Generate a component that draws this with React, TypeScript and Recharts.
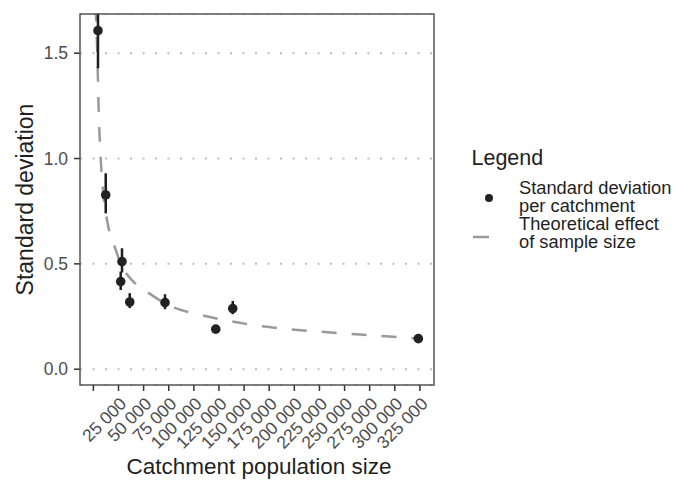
import { ComposedChart, Line, Scatter, ErrorBar, XAxis, YAxis, CartesianGrid } from 'recharts';

document.body.style.margin = '0';

const xTicks = [0, 25000, 50000, 75000, 100000, 125000, 150000, 175000, 200000, 225000, 250000, 275000, 300000, 325000];
const xTickLabels = ['', '25 000', '50 000', '75 000', '100 000', '125 000', '150 000', '175 000', '200 000', '225 000', '250 000', '275 000', '300 000', '325 000'];
const yTicks = [0, 0.5, 1, 1.5];
const yTickLabels = ['0.0', '0.5', '1.0', '1.5'];

// one point per catchment, with its interval
const catchmentPop = [4600, 12300, 28500, 27200, 36200, 71300, 121800, 138700, 323400];
const sdValue = [1.607, 0.827, 0.511, 0.416, 0.319, 0.316, 0.19, 0.288, 0.145];
const sdLow = [1.429, 0.74, 0.459, 0.376, 0.29, 0.285, 0.18, 0.261, 0.138];
const sdHigh = [1.785, 0.93, 0.574, 0.463, 0.361, 0.356, 0.2, 0.324, 0.152];

// theoretical curve
const theoryPop = [2300, 3900, 5600, 7300, 14900, 19300, 26500, 41400, 53100, 76300, 102800, 132700, 162600, 194000, 225600, 255400, 285300, 316800, 323400];
const theorySd = [1.72, 1.5, 1.18, 1.0, 0.676, 0.61, 0.51, 0.408, 0.368, 0.3, 0.262, 0.231, 0.207, 0.19, 0.178, 0.168, 0.158, 0.148, 0.146];

const pointData = catchmentPop.map((x, i) => ({
  x,
  y: sdValue[i],
  err: [sdValue[i] - sdLow[i], sdHigh[i] - sdValue[i]],
}));
const lineData = theoryPop.map((x, i) => ({ x, y: theorySd[i] }));

const FONT = '"Liberation Sans", Arial, sans-serif';
const TEXT = '#1f1f1f';
const AXIS_TEXT = '#4d4d4d';

const XTick = ({ x, y, payload }: any) => {
  const label = xTickLabels[xTicks.indexOf(payload.value)] ?? '';
  return (
    <g transform={`translate(${x},${y})`}>
      <text
        x={0}
        y={0}
        dy="0.72em"
        textAnchor="end"
        transform="rotate(-45)"
        fill={AXIS_TEXT}
        fontSize={17.5}
        fontFamily={FONT}
      >
        {label}
      </text>
    </g>
  );
};

const Dot = ({ cx, cy }: any) => <circle cx={cx} cy={cy} r={4.8} fill="#222" />;

export default function App() {
  return (
    <div style={{ position: 'relative', width: 678, height: 485, background: '#fff' }}>
      <ComposedChart width={678} height={485} margin={{ top: 14, right: 244, bottom: 0, left: 0 }}>
        <CartesianGrid
          vertical={false}
          stroke="#bdbdbd"
          strokeWidth={2}
          strokeDasharray="2 10.5"
        />
        <XAxis
          type="number"
          dataKey="x"
          domain={[-13300, 339000]}
          ticks={xTicks}
          interval={0}
          allowDataOverflow
          axisLine={false}
          tickSize={6}
          tickMargin={5}
          tickLine={{ stroke: '#333', strokeWidth: 1.5 }}
          tick={<XTick />}
          height={100}
        />
        <YAxis
          type="number"
          domain={[-0.075, 1.686]}
          ticks={yTicks}
          allowDataOverflow
          axisLine={false}
          tickSize={6}
          tickMargin={6}
          tickLine={{ stroke: '#333', strokeWidth: 1.5 }}
          tickFormatter={(v: number) => yTickLabels[yTicks.indexOf(v)] ?? ''}
          tick={{ fill: AXIS_TEXT, fontSize: 17.5, fontFamily: FONT }}
          width={80}
        />
        <Line
          data={lineData}
          dataKey="y"
          type="monotone"
          stroke="#9a9a9a"
          strokeWidth={2.5}
          strokeDasharray="15 15"
          dot={false}
          activeDot={false}
          isAnimationActive={false}
        />
        <Scatter data={pointData} dataKey="y" fill="#222" shape={<Dot />} isAnimationActive={false}>
          <ErrorBar dataKey="err" direction="y" width={0} stroke="#1e1e1e" strokeWidth={2.5} isAnimationActive={false} />
        </Scatter>
      </ComposedChart>
      <svg
        width={678}
        height={485}
        style={{ position: 'absolute', left: 0, top: 0, pointerEvents: 'none' }}
        fontFamily={FONT}
      >
        {/* hide what overflows above the panel, as the panel clips it */}
        <rect x={70} y={0} width={380} height={13.3} fill="#fff" />
        <rect x={80} y={14} width={354} height={371} fill="none" stroke="#555" strokeWidth={1.5} />
        <text transform="translate(33,199.5) rotate(-90)" textAnchor="middle" fontSize={23} fill={TEXT}>
          Standard deviation
        </text>
        <text x={259} y={474} textAnchor="middle" fontSize={22.5} fill={TEXT}>
          Catchment population size
        </text>
        <text x={471.5} y={165} fontSize={21.5} fill={TEXT}>
          Legend
        </text>
        <circle cx={489} cy={198} r={4} fill="#222" />
        <line x1={473} y1={237} x2={489} y2={237} stroke="#9a9a9a" strokeWidth={2.5} />
        <text x={519} y={194} fontSize={18.3} fill={TEXT}>Standard deviation</text>
        <text x={519} y={212} fontSize={18.3} fill={TEXT}>per catchment</text>
        <text x={519} y={229.5} fontSize={18.3} fill={TEXT}>Theoretical effect</text>
        <text x={519} y={248} fontSize={18.3} fill={TEXT}>of sample size</text>
      </svg>
    </div>
  );
}
